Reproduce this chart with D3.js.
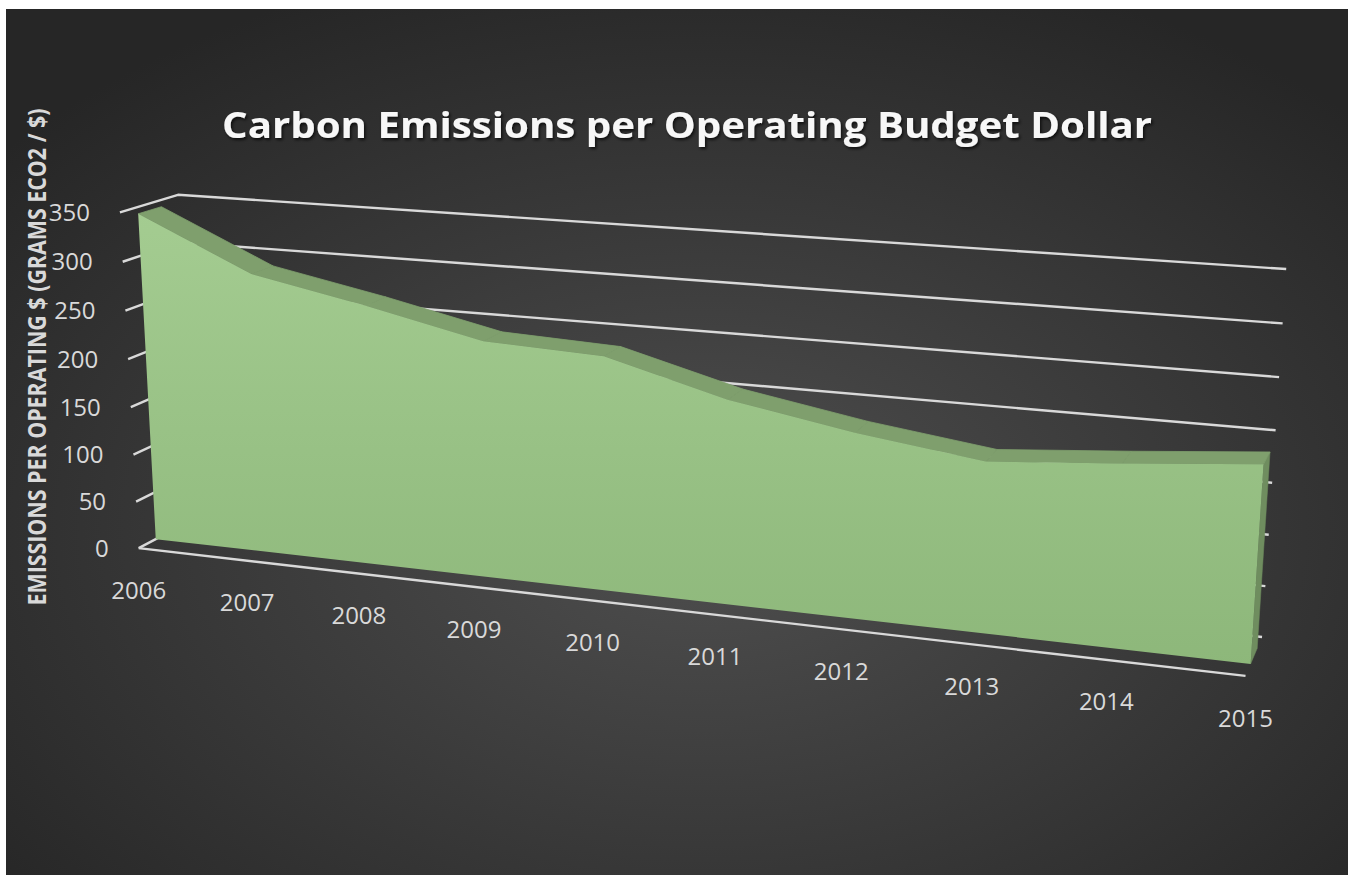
<!DOCTYPE html>
<html><head><meta charset="utf-8">
<script src="https://cdn.jsdelivr.net/npm/d3@7"></script>
<style>body{margin:0;background:#fff;} svg{display:block;}</style>
</head><body>
<svg id="chart" width="1348" height="875"></svg>
<script>
// ---- data ----
const years = ["2006","2007","2008","2009","2010","2011","2012","2013","2014","2015"];
const emissions = [343, 290, 267, 241, 236, 204, 183, 167, 177, 188];
const yTicks = [0, 50, 100, 150, 200, 250, 300, 350];
const chartTitle = "Carbon Emissions per Operating Budget Dollar";
const yAxisTitle = "EMISSIONS PER OPERATING $ (GRAMS ECO2 / $)";

// ---- scales (normalized world coordinates) ----
const x = d3.scalePoint().domain(years).range([0, 1]);
const y = d3.scaleLinear().domain([0, 350]).range([0, 1]);

// ---- perspective camera fitted to the box corners (world -> screen) ----
const calib = [
  [0, 1, 0, 120, 213],
  [0, 1, 1, 178, 195],
  [1, 1, 1, 1286, 269],
  [1, 0, 1, 1262, 637],
  [0, 0, 0, 138, 548],
  [1, 0, 0, 1245, 676],
  [1, 300/350, 1, 1283, 323],
  [1, 150/350, 1, 1272, 483],
  [0, 300/350, 0, 122.5, 261],
  [1/9, 0, 0, 248, 560.7],
  [3/9, 0, 0, 474, 586.8],
  [6/9, 0, 0, 841, 629.3],
  [8/9, 0, 0, 1107, 660]
];
function fitCamera(c) {
  const cu = 674, cv = 437, s = 500, n = 11;
  const A = [], b = [];
  c.forEach(([X, Y, Z, u, v]) => {
    u = (u - cu) / s; v = (v - cv) / s;
    A.push([X, Y, Z, 1, 0, 0, 0, 0, -u*X, -u*Y, -u*Z]); b.push(u);
    A.push([0, 0, 0, 0, X, Y, Z, 1, -v*X, -v*Y, -v*Z]); b.push(v);
  });
  const M = d3.range(n).map(() => new Array(n + 1).fill(0));
  for (let r = 0; r < A.length; r++)
    for (let i = 0; i < n; i++) {
      for (let j = 0; j < n; j++) M[i][j] += A[r][i] * A[r][j];
      M[i][n] += A[r][i] * b[r];
    }
  for (let i = 0; i < n; i++) {
    let p = i;
    for (let k = i + 1; k < n; k++) if (Math.abs(M[k][i]) > Math.abs(M[p][i])) p = k;
    [M[i], M[p]] = [M[p], M[i]];
    for (let k = 0; k < n; k++) {
      if (k === i) continue;
      const f = M[k][i] / M[i][i];
      for (let j = i; j <= n; j++) M[k][j] -= f * M[i][j];
    }
  }
  const q = M.map((row, i) => row[n] / row[i]);
  return (X, Y, Z) => {
    const w = q[8]*X + q[9]*Y + q[10]*Z + 1;
    return [(q[0]*X + q[1]*Y + q[2]*Z + q[3]) / w * s + cu,
            (q[4]*X + q[5]*Y + q[6]*Z + q[7]) / w * s + cv];
  };
}
const cam = fitCamera(calib);
const proj = (cat, val, z) => cam(x(cat), y(val), z);

const svg = d3.select("#chart");
const defs = svg.append("defs");
const bg = defs.append("radialGradient").attr("id", "bg")
  .attr("cx", "52%").attr("cy", "60%").attr("r", "68%");
bg.append("stop").attr("offset", "0%").attr("stop-color", "#4f4f4f");
bg.append("stop").attr("offset", "100%").attr("stop-color", "#262626");
const fg = defs.append("linearGradient").attr("id", "face")
  .attr("gradientUnits", "userSpaceOnUse")
  .attr("x1", 0).attr("y1", 210).attr("x2", 0).attr("y2", 670);
fg.append("stop").attr("offset", "0%").attr("stop-color", "#a4cc91");
fg.append("stop").attr("offset", "100%").attr("stop-color", "#8db77a");
const sh = defs.append("filter").attr("id", "shadow").attr("x", "-5%").attr("y", "-30%").attr("width", "110%").attr("height", "160%");
sh.append("feDropShadow").attr("dx", 1.5).attr("dy", 2).attr("stdDeviation", 1.5)
  .attr("flood-color", "#000").attr("flood-opacity", 0.7);

svg.append("rect").attr("x", 6).attr("y", 9).attr("width", 1342).attr("height", 866)
  .attr("fill", "url(#bg)");

const line = d3.line();
const first = years[0], last = years[years.length - 1];

// gridlines: left wall + back wall
svg.append("g").selectAll("path").data(yTicks).join("path")
  .attr("d", t => line([proj(first, t, 0), proj(first, t, 1), proj(last, t, 1)]))
  .attr("fill", "none").attr("stroke", "#d9d9d9").attr("stroke-width", 2.4)
  .attr("stroke-linejoin", "round");

// floor front edge
svg.append("path").attr("d", line([proj(first, 0, 0), proj(last, 0, 0)]))
  .attr("fill", "none").attr("stroke", "#d9d9d9").attr("stroke-width", 2.4);

// area slab
const zA = 0.3, zB = 0.7;
const pts = years.map((yr, i) => ({yr, v: emissions[i]}));
const area = svg.append("g");
area.append("path")
  .attr("d", line([proj(last, 0, zA), proj(last, emissions[9], zA), proj(last, emissions[9], zB), proj(last, 0, zB)]) + "Z")
  .attr("fill", "#6f8d5f").attr("stroke", "#6f8d5f").attr("stroke-width", 0.5);
area.selectAll("path.top").data(d3.pairs(pts)).join("path").attr("class", "top")
  .attr("d", ([a, b]) => line([proj(a.yr, a.v, zA), proj(b.yr, b.v, zA), proj(b.yr, b.v, zB), proj(a.yr, a.v, zB)]) + "Z")
  .attr("fill", "#7f9f6d").attr("stroke", "#7f9f6d").attr("stroke-width", 0.8);
area.append("path")
  .attr("d", line(pts.map(p => proj(p.yr, p.v, zA)).concat([proj(last, 0, zA), proj(first, 0, zA)])) + "Z")
  .attr("fill", "url(#face)");

// y tick labels
svg.append("g").selectAll("text").data(yTicks).join("text")
  .attr("x", t => proj(first, t, 0)[0] - 30)
  .attr("y", t => proj(first, t, 0)[1])
  .attr("dy", "0.36em").attr("text-anchor", "end")
  .attr("font-family", "Open Sans").attr("font-size", 24).attr("fill", "#d9d9d9")
  .text(t => t);

// category labels
svg.append("g").selectAll("text").data(years).join("text")
  .attr("x", yr => proj(yr, 0, 0)[0])
  .attr("y", yr => proj(yr, 0, 0)[1] + 42)
  .attr("dy", "0.36em").attr("text-anchor", "middle")
  .attr("font-family", "Open Sans").attr("font-size", 24).attr("fill", "#d9d9d9")
  .text(yr => yr);

// title
svg.append("text").attr("x", 687).attr("y", 138).attr("text-anchor", "middle")
  .attr("font-family", "Open Sans").attr("font-weight", "bold").attr("font-size", 35)
  .attr("fill", "#f7f7f7").attr("textLength", 930).attr("lengthAdjust", "spacingAndGlyphs")
  .attr("filter", "url(#shadow)")
  .text(chartTitle);

// y axis title
svg.append("text").attr("transform", "translate(46,357) rotate(-90)")
  .attr("text-anchor", "middle")
  .attr("font-family", "Open Sans").attr("font-weight", "bold").attr("font-size", 25)
  .attr("fill", "#d9d9d9").attr("textLength", 497).attr("lengthAdjust", "spacingAndGlyphs")
  .text(yAxisTitle);
</script>
</body></html>
